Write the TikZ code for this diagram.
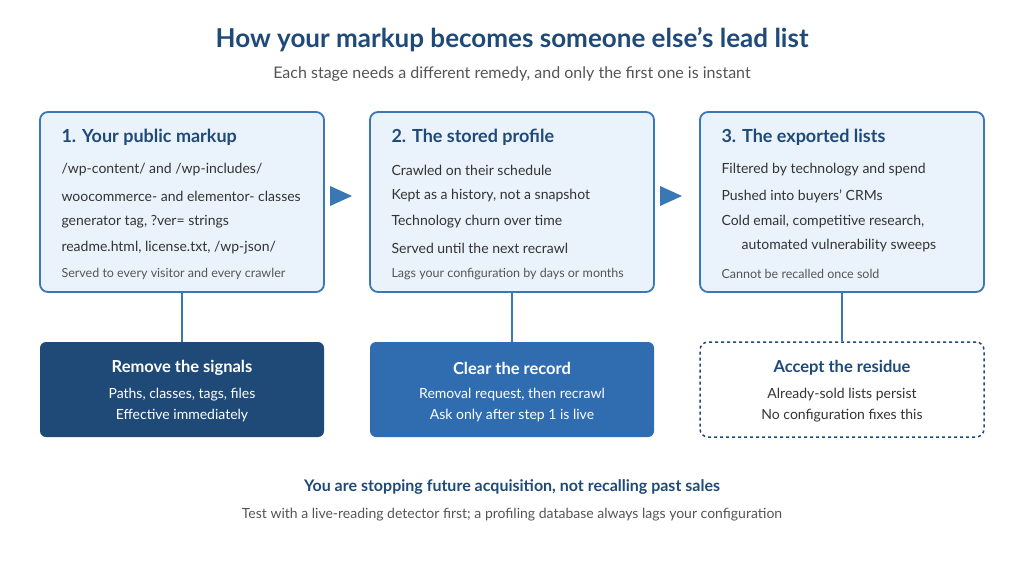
\documentclass[tikz,border=0pt]{standalone}
\usepackage{fontspec}
\setmainfont{Lato}
\definecolor{navy}{HTML}{1F4A78}
\definecolor{mid}{HTML}{2F6DB0}
\definecolor{edge}{HTML}{3A78B5}
\definecolor{pale}{HTML}{EAF2FB}
\definecolor{txt}{HTML}{333333}
\definecolor{gr}{HTML}{555555}
\begin{document}
\begin{tikzpicture}[x=1pt,y=-1pt,
 card/.style={draw=edge,line width=1.8pt,fill=pale,rounded corners=8pt,minimum width=284pt,minimum height=180pt,inner sep=0pt},
 ttl/.style={anchor=west,font=\fontsize{18}{20}\selectfont\bfseries,text=navy},
 ln/.style={anchor=west,font=\fontsize{14}{16}\selectfont,text=txt},
 ft/.style={anchor=west,font=\fontsize{12.5}{14}\selectfont,text=gr},
 bt/.style={font=\fontsize{16.5}{18}\selectfont\bfseries},
 bl/.style={font=\fontsize{14}{16}\selectfont},
 stem/.style={draw=edge,line width=1.5pt},
 tri/.style={fill=edge,draw=none}]
\useasboundingbox (0,0) rectangle (1024,564);
\fill[white] (0,0) rectangle (1024,564);
\node[font=\fontsize{26}{30}\selectfont\bfseries,text=navy] (t) at (512,40) {How your markup becomes someone else's lead list};
\node[font=\fontsize{16}{18}\selectfont,text=gr] (s) at (512,74) {Each stage needs a different remedy, and only the first one is instant};
\node[card] (a) at (182,202) {};
\node[card] (b) at (512,202) {};
\node[card] (c) at (842,202) {};
\node[ttl] at (58,137) {1. Your public markup};
\node[ln] at (58,170) {/wp-content/ and /wp-includes/};
\node[ln] at (58,196) {woocommerce- and elementor- classes};
\node[ln] at (58,222) {generator tag, ?ver= strings};
\node[ln] at (58,248) {readme.html, license.txt, /wp-json/};
\node[ft] at (58,274) {Served to every visitor and every crawler};
\node[ttl] at (388,137) {2. The stored profile};
\node[ln] at (388,170) {Crawled on their schedule};
\node[ln] at (388,196) {Kept as a history, not a snapshot};
\node[ln] at (388,222) {Technology churn over time};
\node[ln] at (388,248) {Served until the next recrawl};
\node[ft] at (388,274) {Lags your configuration by days or months};
\node[ttl] at (718,137) {3. The exported lists};
\node[ln] at (718,170) {Filtered by technology and spend};
\node[ln] at (718,196) {Pushed into buyers' CRMs};
\node[ln] at (718,222) {Cold email, competitive research,};
\node[ln] at (738,246) {automated vulnerability sweeps};
\node[ft] at (718,274) {Cannot be recalled once sold};
\fill[tri] (330,186) -- (352,196) -- (330,206) -- cycle;
\fill[tri] (660,186) -- (682,196) -- (660,206) -- cycle;
\node[fill=navy,rounded corners=6pt,minimum width=284pt,minimum height=95pt] (ra) at (182,389.5) {};
\node[fill=mid,rounded corners=6pt,minimum width=284pt,minimum height=95pt] (rb) at (512,389.5) {};
\node[draw=navy,dashed,line width=1.5pt,fill=white,rounded corners=8pt,minimum width=284pt,minimum height=95pt] (rc) at (842,389.5) {};
\draw[stem] (a.south) -- (ra.north);
\draw[stem] (b.south) -- (rb.north);
\draw[stem] (c.south) -- (rc.north);
\node[bt,text=white] at (182,368) {Remove the signals};
\node[bl,text=white] at (182,395) {Paths, classes, tags, files};
\node[bl,text=white] at (182,416) {Effective immediately};
\node[bt,text=white] at (512,368) {Clear the record};
\node[bl,text=white] at (512,395) {Removal request, then recrawl};
\node[bl,text=white] at (512,416) {Ask only after step 1 is live};
\node[bt,text=navy] at (842,368) {Accept the residue};
\node[bl,text=txt] at (842,395) {Already-sold lists persist};
\node[bl,text=txt] at (842,416) {No configuration fixes this};
\node[font=\fontsize{16}{18}\selectfont\bfseries,text=navy] at (512,487) {You are stopping future acquisition, not recalling past sales};
\node[font=\fontsize{14}{16}\selectfont,text=gr] at (512,515) {Test with a live-reading detector first; a profiling database always lags your configuration};
\end{tikzpicture}
\end{document}
